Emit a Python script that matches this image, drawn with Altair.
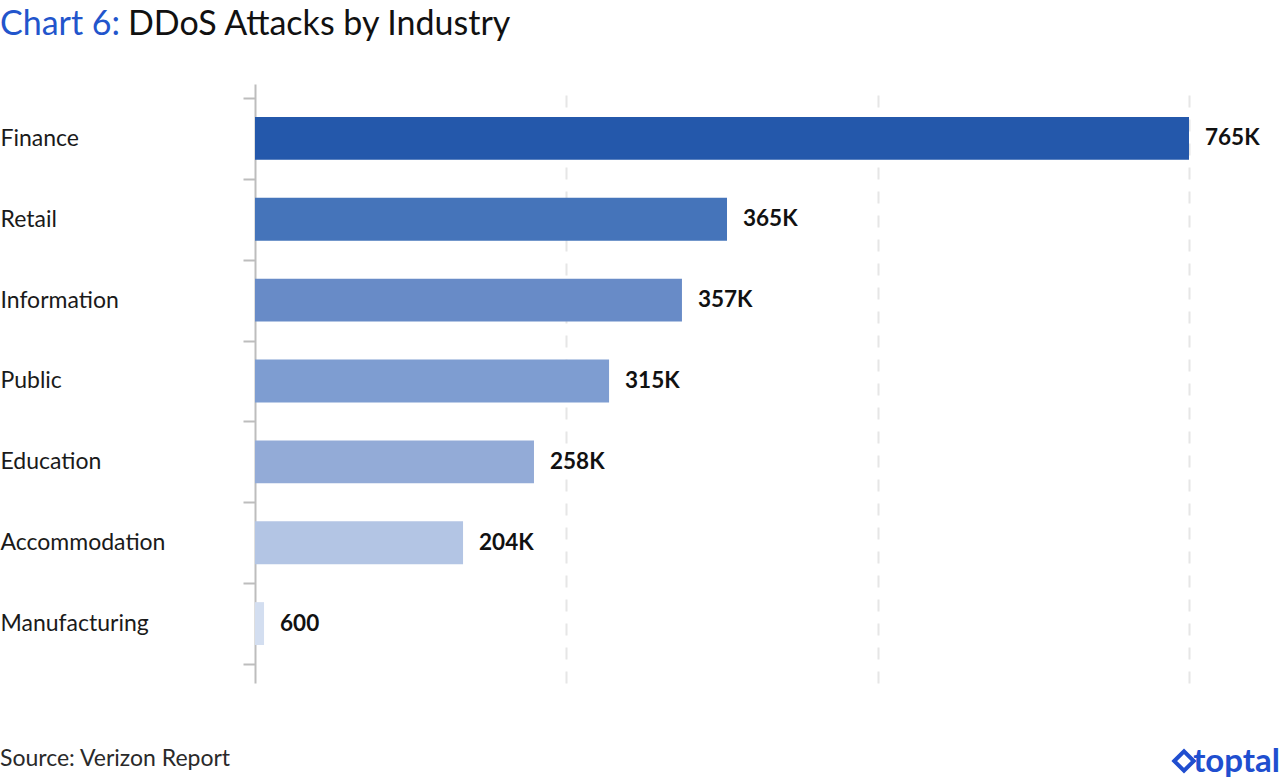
import altair as alt
import pandas as pd

# ---- data ----
industries = ["Finance", "Retail", "Information", "Public", "Education",
              "Accommodation", "Manufacturing"]
value_labels = ["765K", "365K", "357K", "315K", "258K", "204K", "600"]
# drawn bar extent (in "K" units of the axis, gridlines at 255 / 510 / 765)
bar_extent = [765, 386.6, 349.7, 290.0, 228.5, 170.4, 7.4]
bar_colors = ["#2458AB", "#4574BA", "#688BC7", "#7E9DD1", "#93ABD7",
              "#B3C5E4", "#D3DEF0"]
grid_values = [255, 510, 765]

FONT = "Lato"

df = pd.DataFrame({"industry": industries, "extent": bar_extent,
                   "label": value_labels})

y_enc = alt.Y("industry:N", sort=industries, title=None,
              scale=alt.Scale(paddingInner=0, paddingOuter=0.204, align=0.424),
              axis=alt.Axis(tickBand="extent", domainColor="#bdbdbd", domainWidth=2,
                            tickColor="#bdbdbd", tickWidth=2, tickSize=12,
                            labelAlign="left", labelPadding=243, labelLimit=300,
                            labelFont=FONT, labelFontSize=23, labelColor="#1a1a1a",
                            grid=False))
x_enc = alt.X("extent:Q", title=None,
              scale=alt.Scale(domain=[0, 765], nice=False, zero=True),
              axis=alt.Axis(values=grid_values, labels=False, ticks=False,
                            domain=False, grid=True, gridColor="#e6e6e6",
                            gridWidth=2, gridDash=[12, 12]))

bars = alt.Chart(df).mark_bar(height={"band": 0.53}).encode(
    y=y_enc, x=x_enc,
    color=alt.Color("industry:N", legend=None,
                    scale=alt.Scale(domain=industries, range=bar_colors)),
)

labels = alt.Chart(df).mark_text(
    align="left", baseline="middle", dx=16, font=FONT, fontSize=22.5,
    fontWeight="bold", color="#111111"
).encode(y=alt.Y("industry:N", sort=industries), x="extent:Q", text="label:N")

title_df = pd.DataFrame({"a": ["Chart 6:"], "b": ["DDoS Attacks by Industry"]})
title_a = alt.Chart(title_df).mark_text(
    align="left", baseline="alphabetic", font=FONT, fontSize=34, color="#2255CC"
).encode(x=alt.value(-255), y=alt.value(-49), text="a:N")
title_b = alt.Chart(title_df).mark_text(
    align="left", baseline="alphabetic", font=FONT, fontSize=34, color="#111111"
).encode(x=alt.value(-127), y=alt.value(-49), text="b:N")

foot_df = pd.DataFrame({"s": ["Source: Verizon Report"], "l": ["toptal"]})
source = alt.Chart(foot_df).mark_text(
    align="left", baseline="alphabetic", font=FONT, fontSize=23, color="#2a2a2a"
).encode(x=alt.value(-255), y=alt.value(682), text="s:N")
logo_text = alt.Chart(foot_df).mark_text(
    align="right", baseline="alphabetic", font=FONT, fontSize=33,
    fontWeight="bold", color="#204ECF"
).encode(x=alt.value(1025), y=alt.value(688), text="l:N")
logo_icon = alt.Chart(foot_df).mark_point(
    shape="diamond", filled=False, strokeWidth=4, color="#204ECF", size=380,
    opacity=1
).encode(x=alt.value(929), y=alt.value(677))

chart = alt.layer(bars, labels, title_a, title_b, source, logo_text, logo_icon).properties(
    width=934, height=599,
    padding={"left": 255, "top": 84, "right": 91, "bottom": 95},
    autosize=alt.AutoSizeParams(type="none"),
    background="white",
).configure_view(stroke="transparent")

chart.save("out.html", embed_options={"renderer": "svg", "actions": False})
